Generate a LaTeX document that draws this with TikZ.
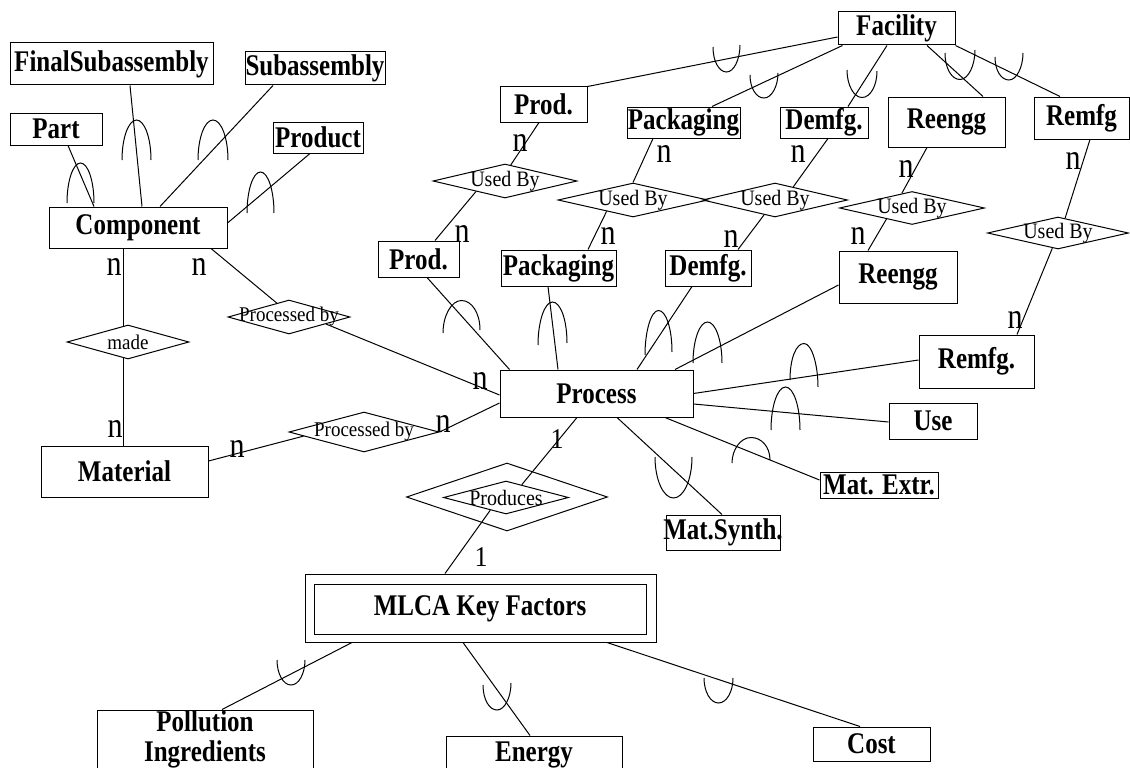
\documentclass[tikz,border=0pt]{standalone}
\usepackage{fontspec}
\usepackage{graphicx}
\setmainfont{Liberation Serif}
\usetikzlibrary{shapes.geometric,calc}

% text set slightly taller than wide, as in the drawing's typeface
\newcommand{\vtxt}[2][1.2]{\scalebox{1}[#1]{#2}}
% zero-width entity label, so a box keeps its size when the text overflows
\newcommand{\Etxt}[1]{\makebox[0pt]{\scalebox{1}[1.2]{#1}}}
% cardinality arc across a connector: ends (x1,y1),(x2,y2), bulge h (h>0 up, h<0 down)
\newcommand{\hump}[5]{%
  \draw[conn] (#1,#2) .. controls (#1,{#2-0.552*(#5)}) and ({(#1+#3)/2-0.276*(#3-#1)},{(#2+#4)/2-(#5)}) ..
    ({(#1+#3)/2},{(#2+#4)/2-(#5)}) .. controls ({(#1+#3)/2+0.276*(#3-#1)},{(#2+#4)/2-(#5)}) and (#3,{#4-0.552*(#5)}) .. (#3,#4);}

\tikzset{
  conn/.style={line width=1pt},
  ent/.style={draw, line width=1pt, inner sep=0pt,
              font=\fontsize{25}{31}\selectfont\bfseries},
  rel/.style={draw, diamond, line width=1pt, inner sep=0pt},
  reltext/.style={font=\fontsize{20}{22}\selectfont, inner sep=0pt},
  pbtext/.style={font=\fontsize{19}{22}\selectfont, inner sep=0pt},
  card/.style={inner sep=0pt, font=\fontsize{30}{30}\selectfont},
  one/.style={inner sep=0pt, font=\fontsize{26}{26}\selectfont},
}

\begin{document}
\begin{tikzpicture}[x=1pt,y=-1pt]
\path[use as bounding box] (0,0) rectangle (1130,768);
\clip (0,0) rectangle (1130,768);
\fill[white] (0,0) rectangle (1130,768);

% ---------- entities ----------
\node[ent, minimum width=203pt, minimum height=42pt] (fsub)    at (111.5,64)   {\Etxt{FinalSubassembly}};
\node[ent, minimum width=140pt, minimum height=33pt] (subas)   at (315,68.5)   {\Etxt{Subassembly}};
\node[ent, minimum width=92pt,  minimum height=32pt] (part)    at (56,129)     {\Etxt{Part}};
\node[ent, minimum width=90pt,  minimum height=31pt] (product) at (318,137.5)  {\Etxt{Product}};
\node[ent, minimum width=178pt, minimum height=41pt] (comp)    at (138,227.5)  {\Etxt{Component}};
\node[ent, minimum width=167pt, minimum height=51pt] (mat)     at (124.5,471.5){\Etxt{Material}};

\node[ent, minimum width=117pt, minimum height=33pt] (fac)     at (896.5,28.5) {\Etxt{Facility}};
\node[ent, minimum width=87pt,  minimum height=35pt] (prodt)   at (543.5,104.5){\Etxt{Prod.}};
\node[ent, minimum width=113pt, minimum height=31pt] (packt)   at (683.5,122.5){\Etxt{Packaging}};
\node[ent, minimum width=88pt,  minimum height=31pt] (demt)    at (824,122.5)  {\Etxt{Demfg.}};
\node[ent, minimum width=117pt, minimum height=50pt] (reet)    at (946.5,122)  {\Etxt{Reengg}};
\node[ent, minimum width=95pt,  minimum height=42pt] (remt)    at (1081.5,118) {\Etxt{Remfg}};

\node[ent, minimum width=81pt,  minimum height=36pt] (prodm)   at (418.5,259)  {\Etxt{Prod.}};
\node[ent, minimum width=115pt, minimum height=36pt] (packm)   at (558.5,268)  {\Etxt{Packaging}};
\node[ent, minimum width=86pt,  minimum height=36pt] (demm)    at (708,268)    {\Etxt{Demfg.}};
\node[ent, minimum width=118pt, minimum height=52pt] (reem)    at (898,277)    {\Etxt{Reengg}};

\node[ent, minimum width=193pt, minimum height=47pt] (proc)    at (596.5,393.5){\Etxt{Process}};
\node[ent, minimum width=115pt, minimum height=53pt] (remm)    at (976.5,361.5){\Etxt{Remfg.}};
\node[ent, minimum width=88pt,  minimum height=36pt] (use)     at (933,421)    {\Etxt{Use}};
\node[ent, minimum width=118pt, minimum height=26pt] (mext)    at (879,485)    {\Etxt{Mat. Extr.}};
\node[ent, minimum width=114pt, minimum height=35pt] (msyn)    at (723,532.5)  {\Etxt{Mat.Synth.}};

\node[ent, minimum width=351pt, minimum height=68pt] (mlca)    at (480.5,608)  {};
\node[ent, minimum width=332pt, minimum height=50pt] (mlcain)  at (480,609)    {\Etxt{MLCA Key Factors}};

\node[ent, minimum width=216pt, minimum height=58pt, align=center,
      font=\fontsize{25}{30}\selectfont\bfseries] (poll) at (205,739)
  {\Etxt{Pollution}\\\Etxt{Ingredients}};
\node[ent, minimum width=176pt, minimum height=38pt] (energy)  at (534,755)    {\Etxt{Energy}};
\node[ent, minimum width=117pt, minimum height=34pt] (cost)    at (871.5,744)  {\Etxt{Cost}};

% ---------- relationships ----------
\node[rel, minimum width=144pt, minimum height=34pt, label={[reltext]center:\vtxt[1.1]{Used By}}] (ub1) at (505,181) {};
\node[rel, minimum width=150pt, minimum height=34pt, label={[reltext]center:\vtxt[1.1]{Used By}}] (ub2) at (633,200) {};
\node[rel, minimum width=145pt, minimum height=34pt, label={[reltext]center:\vtxt[1.1]{Used By}}] (ub3) at (775,200) {};
\node[rel, minimum width=145pt, minimum height=33pt, label={[reltext]center:\vtxt[1.1]{Used By}}] (ub4) at (912,208) {};
\node[rel, minimum width=141pt, minimum height=32pt, label={[reltext]center:\vtxt[1.1]{Used By}}] (ub5) at (1058,233) {};
\node[rel, minimum width=122pt, minimum height=34pt, label={[pbtext]center:\vtxt[1.1]{made}}] (made) at (128,342) {};
\node[rel, minimum width=122pt, minimum height=34pt, label={[pbtext]center:\vtxt[1.1]{Processed by}}] (pb1) at (289,317) {};
\node[rel, minimum width=150pt, minimum height=40pt, label={[pbtext]center:\vtxt[1.1]{Processed by}}] (pb2) at (364,432) {};
\node[rel, minimum width=201pt, minimum height=68pt] (prodout) at (507,497) {};
\node[rel, minimum width=125pt, minimum height=33pt, label={[reltext]center:\vtxt[1.1]{Produces}}] (prodin) at (506,497.5) {};

% ---------- connectors ----------
% component hierarchy
\draw[conn] ([xshift=12pt]part.south)     -- ([xshift=-44pt]comp.north);
\draw[conn] ([xshift=18.5pt]fsub.south)   -- ([xshift=4pt]comp.north);
\draw[conn] ([xshift=-42pt]subas.south)   -- ([xshift=22pt]comp.north);
\draw[conn] ([xshift=-8pt]product.south)  -- ([yshift=4.5pt]comp.east);
\draw[conn] ([xshift=-15pt]comp.south)    -- ([xshift=-5pt,yshift=-1.4pt]made.north);
\draw[conn] ([xshift=-5pt,yshift=1.4pt]made.south) -- ([xshift=-1.5pt]mat.north);
\draw[conn] ([xshift=73pt]comp.south)     -- ($(pb1.west)!0.8!(pb1.north)$);
\draw[conn] ($(pb1.east)!0.4!(pb1.south)$) -- ([yshift=-1.5pt]proc.west);
\draw[conn] ([yshift=10.5pt]mat.east)     -- ($(pb2.west)!0.2!(pb2.south)$);
\draw[conn] (pb2.east)                    -- ([yshift=-9.5pt]proc.west);

% process to key factors
\draw[conn] ([xshift=-19.5pt]proc.south)  -- ($(prodin.north)!0.25!(prodin.east)$);
\draw[conn] ($(prodin.south)!0.25!(prodin.west)$) -- ([xshift=-35.5pt]mlca.north);
\draw[conn] ([xshift=-128.5pt]mlca.south) -- ([xshift=17pt]poll.north);
\draw[conn] ([xshift=-17.5pt]mlca.south)  -- ([xshift=-4pt]energy.north);
\draw[conn] ([xshift=126.5pt]mlca.south)  -- ([xshift=-11.5pt]cost.north);

% process stages
\draw[conn] ([xshift=10pt]proc.north west) -- ([xshift=8.5pt]prodm.south);
\draw[conn] ([xshift=-38.5pt]proc.north)  -- ([xshift=-10.5pt]packm.south);
\draw[conn] ([xshift=40.5pt]proc.north)   -- ([xshift=-16pt]demm.south);
\draw[conn] ([xshift=78.5pt]proc.north)   -- ([yshift=-8pt]reem.west);
\draw[conn] (proc.east)                   -- ([yshift=1.5pt]remm.west);
\draw[conn] ([yshift=-10.5pt]proc.east)   -- ([yshift=-1pt]use.west);
\draw[conn] ([xshift=68.5pt]proc.south)   -- ([yshift=5pt]mext.west);
\draw[conn] ([xshift=20.5pt]proc.south)   -- ([xshift=-1pt]msyn.north);

% stages used by facility stages
\draw[conn] ([xshift=16.5pt]prodm.north)  -- ($(ub1.west)!0.6!(ub1.south)$);
\draw[conn] ($(ub1.north)!0.08!(ub1.east)$) -- ([xshift=-4.5pt]prodt.south);
\draw[conn] ($(ub2.west)!0.65!(ub2.south)$) -- ([xshift=29.5pt]packm.north);
\draw[conn] (ub2.north)                   -- ([xshift=-30.5pt]packt.south);
\draw[conn] ($(ub3.west)!0.85!(ub3.south)$) -- ([xshift=30pt]demm.north);
\draw[conn] ($(ub3.north)!0.25!(ub3.east)$) -- ([xshift=4pt]demt.south);
\draw[conn] ($(ub4.west)!0.65!(ub4.south)$) -- ([xshift=-30pt]reem.north);
\draw[conn] ($(ub4.north)!0.14!(ub4.west)$) -- ([xshift=-19.5pt]reet.south);
\draw[conn] ($(ub5.south)!0.08!(ub5.west)$) -- ([xshift=40.5pt]remm.north);
\draw[conn] ($(ub5.north)!0.1!(ub5.east)$)  -- ([xshift=8.5pt]remt.south);

% facility
\draw[conn] ([yshift=-8.5pt]fac.west)     -- (prodt.north east);
\draw[conn] ([xshift=5pt]fac.south west)  -- ([xshift=28.5pt]packt.north);
\draw[conn] ([xshift=-9.5pt]fac.south)    -- ([xshift=24pt]demt.north);
\draw[conn] ([xshift=30.5pt]fac.south)    -- ([xshift=36.5pt]reet.north);
\draw[conn] (fac.south east)              -- ([xshift=-21.5pt]remt.north);

% ---------- cardinality arcs ----------
\hump{67}{203}{94}{203}{40}
\hump{122}{160}{151}{160}{40}
\hump{198}{160}{228}{160}{40}
\hump{247}{213}{274}{213}{41}
\hump{713}{47}{740}{45}{-26}
\hump{750}{75}{778}{73}{-24}
\hump{847}{70}{877}{71}{-27}
\hump{945}{53}{975}{50}{-28}
\hump{995}{57}{1023}{53}{-25}
\hump{443}{333}{480}{330}{31}
\hump{538}{345}{567}{343}{42}
\hump{645}{355}{672}{352}{43}
\hump{693}{363}{722}{363}{41}
\hump{790}{380}{818}{387}{40}
\hump{771}{430}{800}{430}{43}
\hump{732}{463}{770}{460}{24}
\hump{655}{457}{692}{457}{-41}
\hump{277}{660}{305}{660}{-25}
\hump{483}{685}{511}{683}{-26}
\hump{704}{678}{733}{678}{-25}

% ---------- cardinalities ----------
\node[card] (n1)  at (114,267.5) {\vtxt{n}};
\node[card] (n2)  at (199,267)   {\vtxt{n}};
\node[card] (n3)  at (115,429)   {\vtxt{n}};
\node[card] (n4)  at (237,449)   {\vtxt{n}};
\node[card] (n5)  at (480,381)   {\vtxt{n}};
\node[card] (n6)  at (443,424)   {\vtxt{n}};
\node[card] (n7)  at (520,143)   {\vtxt{n}};
\node[card] (n8)  at (462,234)   {\vtxt{n}};
\node[card] (n9)  at (664,154)   {\vtxt{n}};
\node[card] (n10) at (608,236)   {\vtxt{n}};
\node[card] (n11) at (731,239)   {\vtxt{n}};
\node[card] (n12) at (798,154)   {\vtxt{n}};
\node[card] (n13) at (906,169)   {\vtxt{n}};
\node[card] (n14) at (858,236)   {\vtxt{n}};
\node[card] (n15) at (1073,161)  {\vtxt{n}};
\node[card] (n16) at (1015,320)  {\vtxt{n}};
\node[one]  (o1)  at (557,439)   {\vtxt[1.1]{1}};
\node[one]  (o2)  at (481,557)   {\vtxt[1.1]{1}};
\end{tikzpicture}
\end{document}
